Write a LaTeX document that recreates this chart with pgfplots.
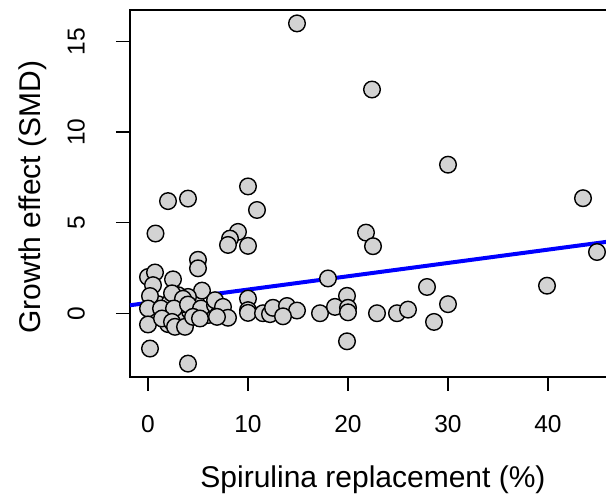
\documentclass[border=0pt]{standalone}
\usepackage{pgfplots}
\usepackage{fontspec}
\setmainfont{Liberation Sans}
\pgfplotsset{compat=1.18}
\definecolor{ptfill}{RGB}{211,211,211}
\definecolor{fitblue}{RGB}{0,0,255}

\begin{document}
\begin{tikzpicture}
\useasboundingbox (0,0) rectangle (606pt,497pt);
\clip (0,0) rectangle (606pt,497pt);
\begin{axis}[
    at={(130pt,120pt)},
    anchor=south west,
    scale only axis,
    width=486pt,
    height=367pt,
    xmin=-1.8, xmax=46.8,
    ymin=-3.52, ymax=16.74,
    xtick={0,10,20,30,40},
    ytick={0,5,10,15},
    xtick pos=bottom,
    ytick pos=left,
    tick align=outside,
    major tick length=14pt,
    every tick/.style={black, line width=1.3pt},
    axis line style={black, line width=1.4pt},
    /pgf/number format/assume math mode=true,
    tick label style={font=\fontsize{24.5}{28}\selectfont},
    xticklabel style={anchor=center, yshift=-33pt},
    yticklabel style={rotate=90, anchor=south, inner sep=0pt},
    yticklabel shift=31pt,
    label style={font=\fontsize{30}{34}\selectfont},
    xlabel={Spirulina replacement (\%)},
    ylabel={Growth effect (SMD)},
    xlabel style={at={(axis description cs:0.5,-0.28)}, anchor=center},
    ylabel style={at={(axis description cs:-0.200,0.49)}, anchor=center, rotate=0},
]
\addplot[fitblue, line width=4pt] coordinates {(-1.8,0.44) (46.8,4.01)};
\addplot[only marks, mark=*, mark size=8.3pt,
    mark options={fill=ptfill, draw=black, line width=1.4pt}] coordinates {
(14.9,16.0) (22.4,12.35) (30,8.2) (43.5,6.35) (44.9,3.38) (39.9,1.52)
(27.9,1.45) (30,0.5) (28.6,-0.48)
(10,7.0) (2,6.19) (4,6.33) (10.9,5.7) (0.75,4.4) (9,4.49) (8.2,4.12)
(8,3.77) (10,3.72) (5,2.95) (5,2.48)
(21.8,4.45) (22.5,3.7) (18,1.92) (19.9,0.96)
(1,0.5) (2,0.1) (3,0.2) (3,-0.3) (4.2,0.1) (5,0) (1.8,-0.1) (3.4,0.5)
(5.8,0.1) (6,-0.1) (4.8,0.6) (2.2,0.6) (3,1.0) (0.3,0.1) (2,-0.6)
(0,2.0) (0.7,2.25) (0.5,1.55) (2.5,1.87) (5.4,1.25) (2.4,1.1) (0.2,0.95)
(4,0.9) (3.5,0.8)
(0,0.26) (1.3,0.26) (2.6,0.26) (4,0.48) (5.3,0.26) (0,-0.62) (1.4,-0.29)
(2.4,-0.48) (2.7,-0.75) (3.7,-0.75) (4.5,-0.2) (5.2,-0.29) (6.7,0.44) (7,-0.1)
(0.2,-1.95) (4,-2.78)
(6.7,0.72) (7.5,0.35) (10,0.81) (10,0.17) (10,0.02) (8,-0.25) (6.9,-0.2)
(11.5,0) (12.2,-0.05) (12.5,0.3) (13.9,0.4) (14.9,0.15) (13.5,-0.17)
(17.2,0) (18.7,0.35) (20,0.3) (20,0.05) (22.9,0) (24.9,0) (26,0.2)
(19.9,-1.55)
};
\end{axis}
\end{tikzpicture}
\end{document}
